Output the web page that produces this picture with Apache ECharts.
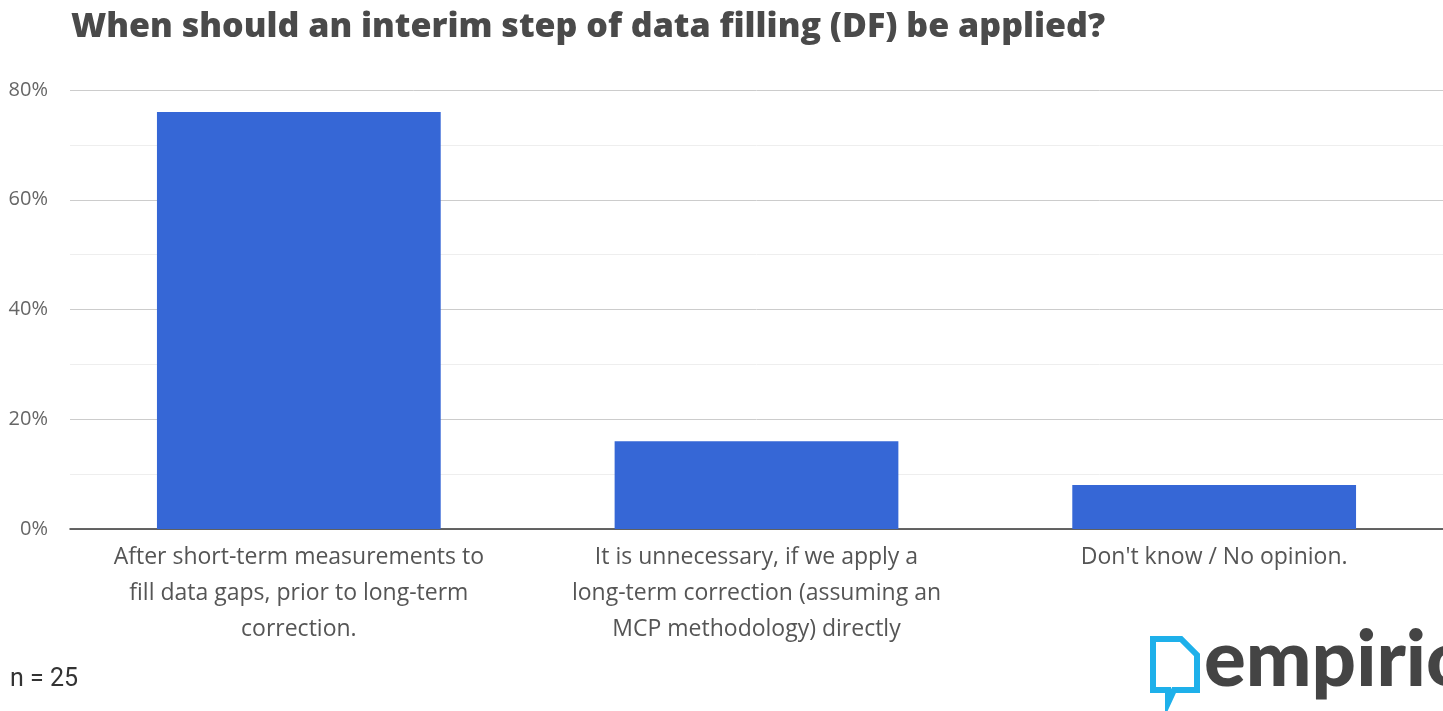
<!DOCTYPE html>
<html>
<head>
<meta charset="UTF-8">
<title>Data filling survey</title>
<script src="https://cdn.jsdelivr.net/npm/echarts@6/dist/echarts.min.js"></script>
<style>
  html, body { margin: 0; padding: 0; background: #fff; }
  #main { width: 1443px; height: 711px; }
</style>
</head>
<body>
<div id="main"></div>
<script>
// survey answers, n = 25
var categories = [
    'After short-term measurements to\nfill data gaps, prior to long-term\ncorrection.',
    'It is unnecessary, if we apply a\nlong-term correction (assuming an\nMCP methodology) directly',
    'Don\'t know / No opinion.'
];
var shares = [76, 16, 8];
var sampleNote = 'n = 25';

var chart = echarts.init(document.getElementById('main'));

var option = {
    animation: false,
    title: {
        text: 'When should an interim step of data filling (DF) be applied?',
        left: 66,
        top: 5,
        textStyle: { fontFamily: 'Open Sans', fontWeight: 800, fontSize: 34, color: '#4a4a4a' }
    },
    grid: { left: 70, right: 0, top: 90, bottom: 182 },
    xAxis: {
        type: 'category',
        data: categories,
        axisTick: { show: false },
        axisLine: { lineStyle: { color: '#333', width: 1.5 } },
        axisLabel: {
            fontFamily: 'Open Sans', fontSize: 23, color: '#555',
            lineHeight: 36, margin: 10, interval: 0
        }
    },
    yAxis: {
        type: 'value',
        min: 0, max: 80, interval: 10,
        axisLabel: {
            fontFamily: 'Open Sans', fontSize: 20, color: '#666', margin: 22,
            formatter: function (v) { return v % 20 === 0 ? v + '%' : ''; }
        },
        splitLine: {
            lineStyle: {
                color: ['#e8e8e8', '#eeeeee', '#cccccc', '#eeeeee', '#cccccc', '#eeeeee', '#cccccc', '#eeeeee', '#cccccc']
            }
        }
    },
    series: [{
        type: 'bar',
        data: shares,
        barWidth: '62%',
        itemStyle: { color: '#3667d6' }
    }],
    graphic: [
        {
            type: 'text', left: 10, top: 667,
            style: { text: sampleNote, fontFamily: 'Roboto', fontSize: 25, fill: '#333' }
        },
        {
            type: 'polyline', shape: {
                points: [[1153, 639], [1181, 639], [1197, 655], [1197, 690], [1174, 690], [1168, 703], [1168, 690], [1153, 690], [1153, 636]]
            },
            style: { stroke: '#1eb0ea', lineWidth: 6, fill: null, lineJoin: 'miter' }
        },
        {
            type: 'text', left: 1204, top: 622,
            style: { text: 'empirio', fontFamily: 'Lato', fontWeight: 900, fontSize: 78, fill: '#444' }
        }
    ]
};

chart.setOption(option);
</script>
</body>
</html>
